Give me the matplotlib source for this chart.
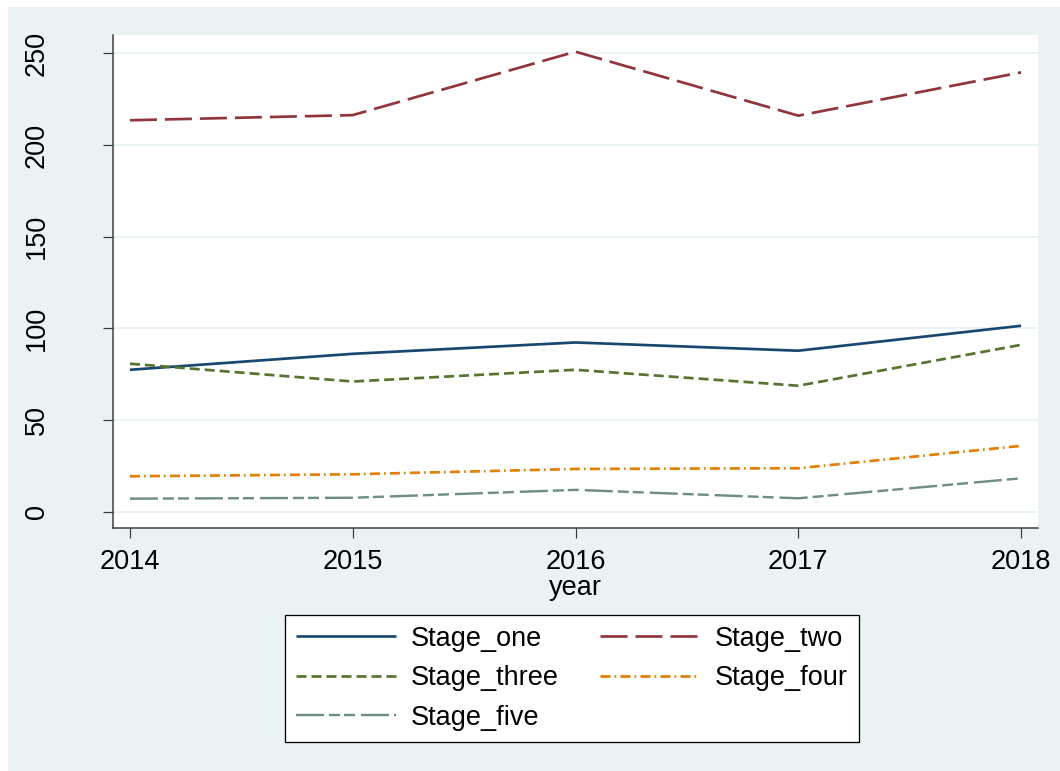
import matplotlib
matplotlib.use("Agg")
import matplotlib.pyplot as plt
from matplotlib.patches import Rectangle

years = [2014, 2015, 2016, 2017, 2018]
stage_one = [77.4, 86.1, 92.3, 87.8, 101.4]
stage_two = [213.5, 216.3, 250.9, 216.0, 239.6]
stage_three = [80.7, 71.0, 77.4, 68.7, 91.0]
stage_four = [19.3, 20.4, 23.3, 23.7, 35.9]
stage_five = [7.1, 7.6, 11.9, 7.3, 18.2]
labels = ["Stage_one", "Stage_two", "Stage_three", "Stage_four", "Stage_five"]
yticks = [0, 50, 100, 150, 200, 250]

plt.rcParams['font.family'] = ['Liberation Sans', 'DejaVu Sans']
plt.rcParams['lines.scale_dashes'] = False

W, H = 1060, 771
FS = 19.5
fig = plt.figure(figsize=(W / 100, H / 100), dpi=100, facecolor='white')
bg = '#EAF2F3'
fig.patches.append(Rectangle((8 / W, 0), 1, 1 - 7 / H, transform=fig.transFigure,
                             facecolor=bg, edgecolor='none', zorder=-5))

ax = fig.add_axes([113 / W, (H - 528) / H, (1038 - 113) / W, (528 - 35) / H])
ax.set_facecolor('white')
ax.set_zorder(1)

px = 0.72
series = [stage_one, stage_two, stage_three, stage_four, stage_five]
colors = ['#1A476F', '#90353B', '#55752F', '#E37E00', '#6E8E84']
styles = ['-',
          (0, (27 * px, 8 * px)),
          (0, (10 * px, 5 * px)),
          (0, (10 * px, 4 * px, 1.7 * px, 4.3 * px)),
          (0, (28 * px, 5 * px, 11 * px, 4 * px, 11 * px, 6 * px))]
lws = [2.7, 2.7, 2.7, 2.7, 2.4]
handles = []
for s, c, ls, lw, lab in zip(series, colors, styles, lws, labels):
    h, = ax.plot(years, s, color=c, linestyle=ls, linewidth=lw * px, label=lab,
                 solid_capstyle='butt', dash_capstyle='butt', zorder=3)
    handles.append(h)

ax.set_xlim(2013.924, 2018.076)
ax.set_ylim(-8.9, 260.0)
ax.set_xticks(years)
ax.set_xticklabels([str(y) for y in years])
ax.set_yticks(yticks)
ax.set_yticklabels([str(v) for v in yticks], rotation=90, va='center')
ax.grid(axis='y', color=bg, linewidth=2 * px, zorder=1)
ax.set_axisbelow(True)

for sp in ['top', 'right']:
    ax.spines[sp].set_visible(False)
for sp in ['left', 'bottom']:
    ax.spines[sp].set_color('#3a3a3a')
    ax.spines[sp].set_linewidth(1.5 * px)

ax.tick_params(axis='both', direction='out', length=10 * px, width=1.2 * px,
               color='#3a3a3a', labelsize=FS, labelcolor='black')
ax.tick_params(axis='y', pad=53 * px)
ax.tick_params(axis='x', pad=11 * px)
ax.set_xlabel('year', fontsize=FS, labelpad=0)

leg_order = [0, 2, 4, 1, 3]
leg = fig.legend([handles[i] for i in leg_order], [labels[i] for i in leg_order],
                 ncol=2, loc='upper left',
                 bbox_to_anchor=(285 / W, (H - 615) / H),
                 fontsize=FS, frameon=True, fancybox=False,
                 edgecolor='black', framealpha=1, handlelength=3.7,
                 handletextpad=0.55, labelspacing=0.5, borderpad=0.4,
                 borderaxespad=0, columnspacing=1.5)
leg.get_frame().set_linewidth(1.3 * px)

fig.savefig('out.png', dpi=100, facecolor=fig.get_facecolor())
